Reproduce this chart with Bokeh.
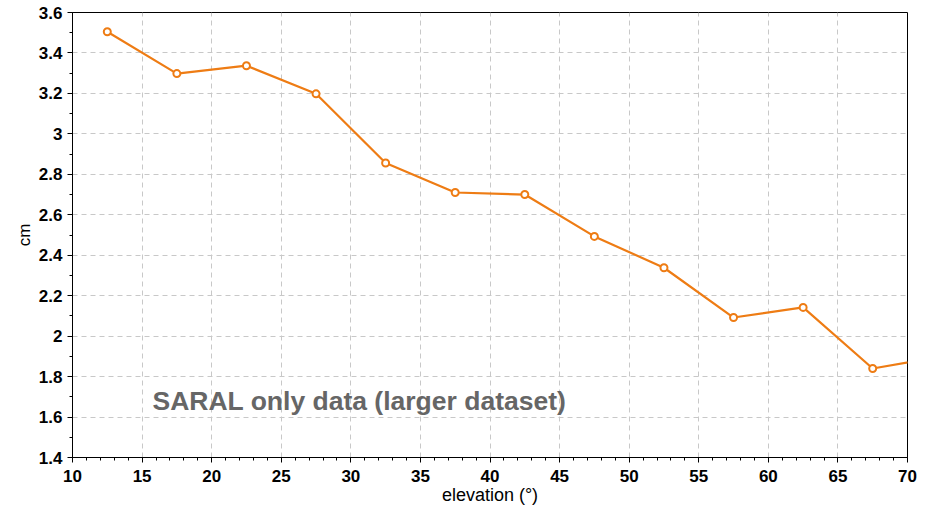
from bokeh.plotting import figure
from bokeh.models import Range1d, Label, FixedTicker
from bokeh.embed import file_html
from bokeh.resources import INLINE

elevation = [12.5, 17.5, 22.5, 27.5, 32.5, 37.5, 42.5, 47.5, 52.5, 57.5, 62.5, 67.5, 72.5]
cm_values = [3.505, 3.298, 3.337, 3.198, 2.856, 2.710, 2.700, 2.493, 2.338, 2.092, 2.142, 1.840, 1.900]
x_ticks = [10, 15, 20, 25, 30, 35, 40, 45, 50, 55, 60, 65, 70]
y_ticks = [1.4, 1.6, 1.8, 2.0, 2.2, 2.4, 2.6, 2.8, 3.0, 3.2, 3.4, 3.6]
y_tick_labels = {1.4: "1.4", 1.6: "1.6", 1.8: "1.8", 2.0: "2", 2.2: "2.2", 2.4: "2.4",
                 2.6: "2.6", 2.8: "2.8", 3.0: "3", 3.2: "3.2", 3.4: "3.4", 3.6: "3.6"}
annotation = "SARAL only data (larger dataset)"

FONT = "Liberation Sans"
ORANGE = "#EE7C14"

p = figure(width=918, height=507, output_backend="svg", toolbar_location=None,
           x_range=Range1d(10, 70), y_range=Range1d(1.4, 3.6),
           min_border_left=72, min_border_right=11, min_border_top=12, min_border_bottom=50)

p.line(elevation, cm_values, line_color=ORANGE, line_width=2.2)
p.scatter(elevation, cm_values, marker="circle", size=7, line_color=ORANGE,
          line_width=2, fill_color="white")

p.xaxis.ticker = FixedTicker(ticks=x_ticks, minor_ticks=list(range(10, 71)))
p.yaxis.ticker = FixedTicker(ticks=y_ticks, minor_ticks=[round(1.4 + 0.1 * i, 2) for i in range(23)])
p.yaxis.major_label_overrides = y_tick_labels

for ax in (p.xaxis, p.yaxis):
    ax.axis_line_color = "black"
    ax.axis_line_width = 1
    ax.major_tick_line_color = "black"
    ax.minor_tick_line_color = "black"
    ax.major_tick_in = 0
    ax.major_tick_out = 5
    ax.minor_tick_in = 0
    ax.minor_tick_out = 3
    ax.major_label_text_font = FONT
    ax.major_label_text_font_size = "17px"
    ax.major_label_text_font_style = "bold"
    ax.major_label_text_color = "black"
    ax.axis_label_text_font = FONT
    ax.axis_label_text_font_style = "normal"
    ax.axis_label_text_color = "black"

p.xaxis.axis_label = "elevation (°)"
p.yaxis.axis_label = "cm"
p.xaxis.axis_label_text_font_size = "18px"
p.yaxis.axis_label_text_font_size = "17px"
p.xaxis.major_label_standoff = 7
p.xaxis.axis_label_standoff = 0
p.yaxis.major_label_standoff = 5
p.yaxis.axis_label_standoff = 2

p.grid.grid_line_color = "#c8c8c8"
p.grid.grid_line_dash = "5 4"
p.grid.grid_line_width = 1

p.outline_line_color = "black"
p.outline_line_width = 1
p.outline_line_alpha = 1
p.background_fill_color = "white"
p.border_fill_color = "white"

p.add_layout(Label(x=15.75, y=1.68, text=annotation, text_font=FONT,
                   text_font_size="26.5px", text_font_style="bold", text_color="#666666",
                   text_baseline="alphabetic"))

open("out.html", "w").write(file_html(p, INLINE))
